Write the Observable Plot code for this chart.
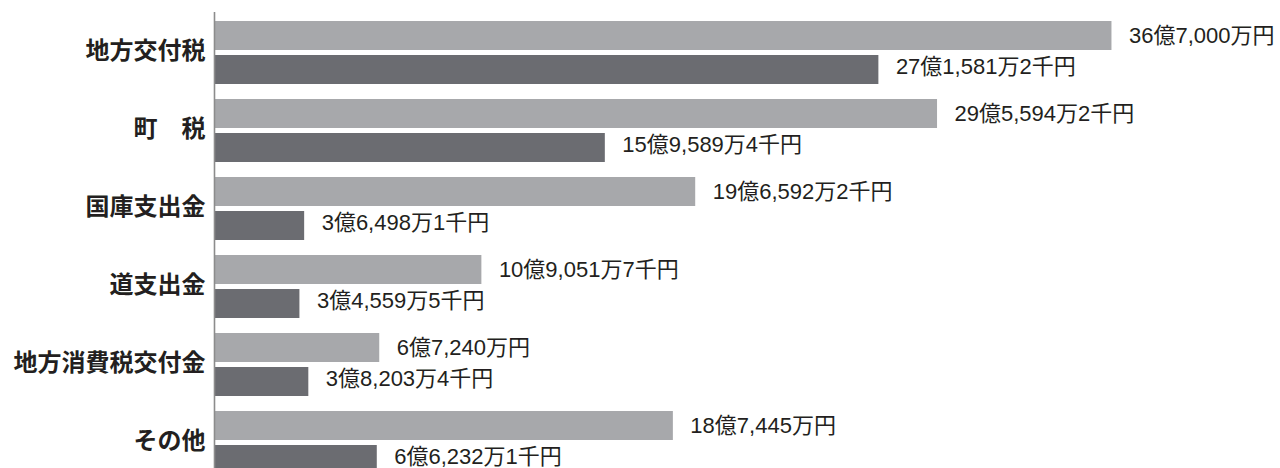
<!DOCTYPE html>
<html>
<head>
<meta charset="utf-8">
<script src="https://cdn.jsdelivr.net/npm/d3@7"></script>
<script src="https://cdn.jsdelivr.net/npm/@observablehq/plot@0.6"></script>
<style>
  html, body { margin: 0; padding: 0; background: #fff; overflow: hidden; }
  #chart svg { overflow: hidden; display: block; }
</style>
</head>
<body>
<div id="chart"></div>
<script>
// Values in 億円
const categories = ["地方交付税", "町　税", "国庫支出金", "道支出金", "地方消費税交付金", "その他"];
const seriesA = [36.7, 29.55942, 19.65922, 10.90517, 6.724, 18.7445];
const seriesB = [27.15812, 15.95894, 3.64981, 3.45595, 3.82034, 6.62321];
const labelsA = ["36億7,000万円", "29億5,594万2千円", "19億6,592万2千円", "10億9,051万7千円", "6億7,240万円", "18億7,445万円"];
const labelsB = ["27億1,581万2千円", "15億9,589万4千円", "3億6,498万1千円", "3億4,559万5千円", "3億8,203万4千円", "6億6,232万1千円"];

const rowsA = categories.map((c, i) => ({category: c, value: seriesA[i], label: labelsA[i]}));
const rowsB = categories.map((c, i) => ({category: c, value: seriesB[i], label: labelsB[i]}));

const labelFont = '"Liberation Sans", "Noto Sans CJK JP", sans-serif';

const plot = Plot.plot({
  width: 1280,
  height: 468,
  marginLeft: 215,
  marginRight: 0,
  marginTop: 12,
  marginBottom: 0,
  style: {background: "#fff", color: "#231f20"},
  x: {domain: [0, 43.6], axis: null},
  y: {domain: categories, range: [12, 480], padding: 0, axis: null, label: null},
  marks: [
    Plot.barX(rowsA, {x: "value", y: "category", fill: "#a7a8ab", insetTop: 9, insetBottom: 40}),
    Plot.barX(rowsB, {x: "value", y: "category", fill: "#6b6c71", insetTop: 43, insetBottom: 6}),
    Plot.text(rowsA, {x: "value", y: "category", text: "label", textAnchor: "start", dx: 17, dy: -15.5,
      fontSize: 22, fontFamily: labelFont, fill: "#231f20"}),
    Plot.text(rowsB, {x: "value", y: "category", text: "label", textAnchor: "start", dx: 17, dy: 15,
      fontSize: 22, fontFamily: labelFont, fill: "#231f20"}),
    Plot.axisY({tickSize: 0, tickPadding: 10, fontSize: 24, fontWeight: 700, label: null,
      fontFamily: '"Noto Sans CJK JP", sans-serif', fill: "#231f20"}),
    Plot.ruleX([0], {stroke: "#8c8c8c", strokeWidth: 1.6, dx: -1})
  ]
});
document.getElementById("chart").appendChild(plot);
</script>
</body>
</html>
